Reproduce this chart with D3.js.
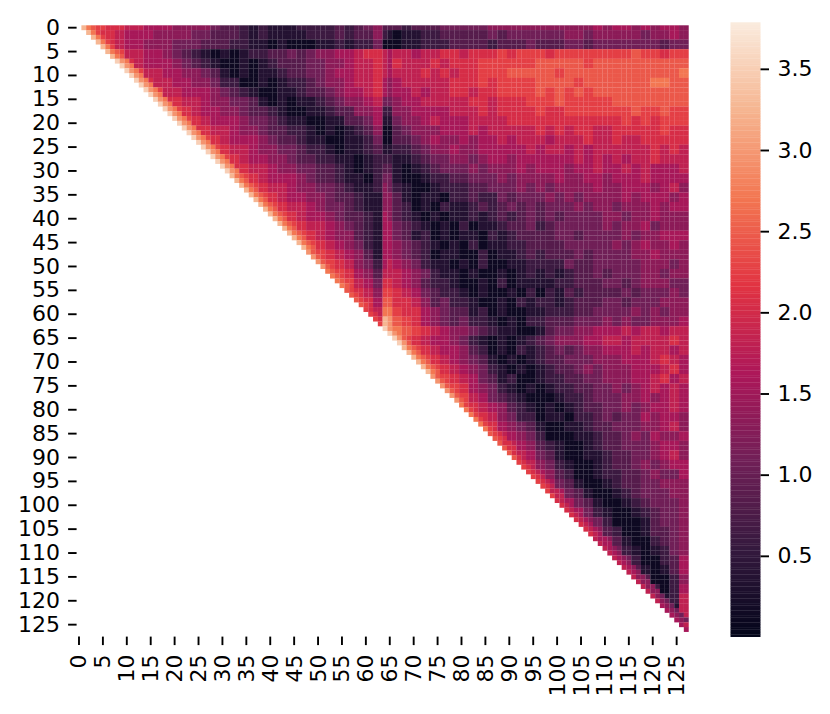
<!DOCTYPE html>
<html>
<head>
<meta charset="utf-8">
<script src="https://cdn.jsdelivr.net/npm/d3@7/dist/d3.min.js"></script>
<style>
html,body{margin:0;padding:0;background:#fff}
svg{display:block}
text{font-family:"DejaVu Sans",sans-serif;fill:#000}
</style>
</head>
<body>
<svg id="chart" width="830" height="714"></svg>
<script>
// Values. Each string is one band of two rows (rows 2b-1, 2b),
// each character one band of two columns, starting at column band b. Characters index levelValues.
const levelValues = [0.12,0.36,0.6,0.84,1.08,1.32,1.56,1.8,2.04,2.25,2.45,2.7,2.95,3.25,3.5,3.72];
const rowBands = [
"db98877666555543321211122223234 5|33233344 44455555 55555565 66565665",
"b8876665555443332121111222 32335|10112233 33343444 44455455 55545565",
"9876655544433322110100011 21224|00112223 33323334 33344344 44444344",
"a9776654321010122334345566788|67767788 78889899 98999999 99a99899",
"a87666543210010123334 4556778|68777878 88999999 aaaaa9aa aaaaaaaa",
"a97766554310101123344 566778|67778787 88999aaa aa9aaaaa aaaaaaab",
"a87766554220010122345 56778|56777778 88989999 aaaa9aaa aaaabbaa",
"a97766654321001123345 6678|56676778 87889999 a9a9a9aa aaaaaaaa",
"a887765544310101123 45567|45667777 78878889 99a99999 aaaaaaaa",
"a98766554332100112 33556|25566667 77878888 98899999 99a99a99",
"a98766654432110011 3346|14556766 67777888 88888888 89898999",
"a88776554332210101 235|03455566 67677777 87878877 88888988",
"a9876665433211001124|03345655 65667677 76777877 87788888",
"a98776554432210112 3|12234556 55666667 67767677 77778787",
"a98766554332211012|21123445 54566566 66667676 76778777",
"a8877655443321012|31012344 45455565 66656676 67676667",
"a987666543321102|41001223 34445455 55655665 66676666",
"a98776554432112|42100122 23344454 54555565 56665675",
"a98766554332 11|53101102 23224344 45454555 56566656",
"a987765443211|53201021 12323434 34445455 45556566",
"a98766543321|53210101 12123234 34344445 54556555",
"a9877654321|64321010 20112334 23444445 45564555",
"a987655321|64312010 11021233 33443444 45455666",
"a98765421|65432101 02011223 33344444 54565565",
"a9876531|65432011 00201123 23334344 44556555",
"a987542|76542110 10200112 22243344 44455545",
"a98653|77654211 01001012 12123343 44455455",
"a9764|87653221 00102011 11223334 43455544",
"a875|98764322 10100102 02132333 34344454",
"a86|a8875342 21001021 22123334 43444555",
"a7|b9886543 31201001 12223344 44545455",
"9|ca986543 42210102 23334445 45445556",
"dba98765 54321100 13445566 67677677",
"b987665 42101012 34555667 76777787",
"a98766 53201021 23434556 66767767",
"a9876 54310101 23344455 56667876",
"a987 65421010 12334545 55666786",
"a98 76431200 12233445 55667867",
"a9 86542101 01223344 54567676",
"a 97643210 00122344 45565676",
"a8765321 01012334 45456676",
"9875422 01102234 34465665",
"986543 10011233 44455675",
"97654 20001123 34546556",
"9765 32100123 34445665",
"876 43100112 33445675",
"87 54210012 33454566",
"8 65320012 23345446",
"86431001 23344555",
"8643100 12344455",
"864310 01234445",
"76421 00123445",
"7542 00013445",
"753 20013345",
"75 31002345",
"6 42101245",
"64200236",
"6310136",
"530025",
"52026",
"4127",
"317",
"37",
"8"
];
// Values of the three cells next to the empty triangle, one character per row band.
const edgeOffset1 = "ddddeeeeeeeeeeeeddddddddccbbaa99eedddcccbbbaaa999988887777777666 79".replace(" ","").slice(0,64);
const edgeOffset2 = "bbbbccccccccccccbbbbbbbbaaaa9988ccbbbaaa9999888887777766665555 57".replace(" ","").slice(0,64);
const edgeOffset3 = "a99abbbbbbbbbbbbaaaaaaaa9999887cbaaaa99988888777776666655555444 6".replace(" ","").slice(0,64);
// Column 64 stands out from its neighbours: one character per row band, bands 0 to 32.
const column64 = "320777664210012345556666667 89abde".replace(" ","");
const tickStep = 5;
const colorTicks = [0.5,1.0,1.5,2.0,2.5,3.0,3.5];
const colorExtent = [0.0,3.77];
const rocket = ["#03051a","#35193e","#701f57","#ad1759","#e13342","#f37651","#f6b48f","#faebdd"];

const nCells = 128;
const level = c => levelValues[parseInt(c,16)];
const bands = rowBands.map(s => s.replace(/[| ]/g,""));

const x = d3.scaleBand().domain(d3.range(nCells)).range([76.6,688.6]);
const y = d3.scaleBand().domain(d3.range(nCells)).range([25.3,636.6]);
const color = d3.scaleLinear()
  .domain(rocket.map((_,i)=>colorExtent[0]+(colorExtent[1]-colorExtent[0])*i/(rocket.length-1)))
  .range(rocket).interpolate(d3.interpolateRgb).clamp(true);

const cells = [];
for (let i=0;i<nCells-1;i++){
  const b = Math.ceil(i/2);
  for (let j=i+1;j<nCells;j++){
    const c = Math.floor(j/2), off = j-i;
    let ch = bands[b][c-b];
    if (j===64 && b<column64.length) ch = column64[b];
    else if (off===1) ch = edgeOffset1[b];
    else if (off===2) ch = edgeOffset2[b];
    else if (off===3) ch = edgeOffset3[b];
    if (ch!==undefined) cells.push({i,j,v:level(ch)});
  }
}

const svg = d3.select("#chart");
svg.append("g").selectAll("rect").data(cells).join("rect")
  .attr("x",d=>x(d.j)).attr("y",d=>y(d.i))
  .attr("width",x.bandwidth()+0.12).attr("height",y.bandwidth()+0.12)
  .attr("fill",d=>color(d.v));

const ticks = d3.range(0,nCells,tickStep);
const fs = 22;
const gy = svg.append("g").attr("transform","translate(76.6,0)")
  .call(d3.axisLeft(y).tickValues(ticks).tickSize(8.5).tickPadding(8));
const gx = svg.append("g").attr("transform","translate(0,636.6)")
  .call(d3.axisBottom(x).tickValues(ticks).tickSize(8.5).tickPadding(9));
gx.selectAll("text").attr("transform","rotate(-90)")
  .attr("text-anchor","end").attr("dy",null)
  .attr("x",-(8.5+9.5)).attr("y",0).attr("dominant-baseline","central");
[gx,gy].forEach(g=>{
  g.select(".domain").remove();
  g.selectAll("line").attr("stroke","#000").attr("stroke-width",1.9);
  g.selectAll("text").style("font-size",fs+"px").style("font-family",'"DejaVu Sans",sans-serif');
});

// colour bar
const cbY = d3.scaleLinear().domain(colorExtent).range([637,25]);
const cbLeft=730.5, cbRight=760.5;
const steps = d3.range(0,256).map(k=>colorExtent[0]+(colorExtent[1]-colorExtent[0])*k/255);
const dv=(colorExtent[1]-colorExtent[0])/255;
svg.append("g").selectAll("rect").data(steps).join("rect")
  .attr("x",cbLeft).attr("width",cbRight-cbLeft)
  .attr("y",d=>cbY(d+dv)-0.3).attr("height",d=>cbY(d)-cbY(d+dv)+0.3)
  .attr("fill",d=>color(d));
const gc = svg.append("g").attr("transform",`translate(${cbRight},0)`)
  .call(d3.axisRight(cbY).tickValues(colorTicks).tickFormat(d3.format(".1f")).tickSize(8.5).tickPadding(8.5));
gc.select(".domain").remove();
gc.selectAll("line").attr("stroke","#000").attr("stroke-width",1.9);
gc.selectAll("text").style("font-size",fs+"px").style("font-family",'"DejaVu Sans",sans-serif');
</script>
</body>
</html>
